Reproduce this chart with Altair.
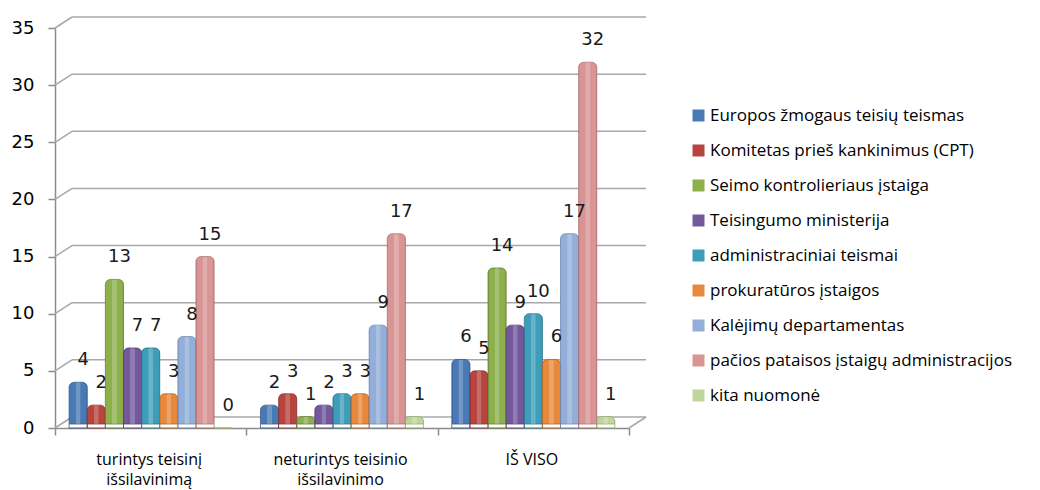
import altair as alt
import pandas as pd

categories = ["turintys teisinį\nišsilavinimą", "neturintys teisinio\nišsilavinimo", "IŠ VISO"]
series = [
    "Europos žmogaus teisių  teismas",
    "Komitetas prieš kankinimus (CPT)",
    "Seimo kontrolieriaus įstaiga",
    "Teisingumo ministerija",
    "administraciniai teismai",
    "prokuratūros įstaigos",
    "Kalėjimų departamentas",
    "pačios pataisos įstaigų administracijos",
    "kita nuomonė",
]
v_europos = [4, 2, 6]
v_cpt = [2, 3, 5]
v_seimo = [13, 1, 14]
v_ministerija = [7, 2, 9]
v_admin = [7, 3, 10]
v_prokuratura = [3, 3, 6]
v_kalejimu = [8, 9, 17]
v_pacios = [15, 17, 32]
v_kita = [0, 1, 1]
y_ticks = [0, 5, 10, 15, 20, 25, 30, 35]

colors = ["#4A7AB5", "#B8443F", "#8DB04C", "#73589C", "#3E9EB9", "#E8883C", "#93AFD9", "#D99595", "#BED69A"]
dark = ["#30578A", "#8A2E2B", "#637F31", "#513C72", "#2A7489", "#B5621F", "#6A87B3", "#B06C6C", "#94AD70"]

all_vals = [v_europos, v_cpt, v_seimo, v_ministerija, v_admin, v_prokuratura, v_kalejimu, v_pacios, v_kita]
rows = []
for s, vals in zip(series, all_vals):
    for c, v in zip(categories, vals):
        rows.append({"cat": c, "series": s, "value": v})
df = pd.DataFrame(rows)
grid_df = pd.DataFrame({"v": y_ticks})
floor_df = pd.DataFrame({"v": [0]})

W, H = 574, 400
DEPTH_X, DEPTH_Y = 17, -11
GRID = "#A8A8A8"
AXC = "#8C8C8C"
TXT_FONT = "Open Sans"

yscale = alt.Scale(domain=[0, 35], nice=False, zero=True)
xscale = alt.Scale(domain=categories, paddingInner=0, paddingOuter=0)

y_axis = alt.Axis(
    values=y_ticks, grid=False, domainColor=AXC, tickColor=AXC, tickSize=7,
    domainWidth=1.5, tickWidth=1.5, labelPadding=14,
    labelFont="DejaVu Sans", labelFontSize=18, labelColor="#000", title=None,
)
x_axis = alt.Axis(
    labelAngle=0, tickBand="extent", labelOffset=-2, domainColor=AXC, tickColor=AXC,
    tickSize=7, domainWidth=1.5, tickWidth=1.5, labelPadding=16,
    labelFont=TXT_FONT, labelFontSize=16, labelColor="#000", labelLineHeight=20,
    labelExpr="isValid(datum.value) ? split(datum.value, '\\n') : ''", title=None,
)

grid_back = alt.Chart(grid_df).mark_rule(color=GRID, strokeWidth=1.5, yOffset=DEPTH_Y).encode(
    y=alt.Y("v:Q", scale=yscale, axis=y_axis, title=None),
    x=alt.value(DEPTH_X), x2=alt.value(W + DEPTH_X),
)
grid_diag = alt.Chart(grid_df).mark_rule(color=GRID, strokeWidth=1.5, y2Offset=DEPTH_Y).encode(
    y=alt.Y("v:Q", scale=yscale, title=None), y2="v:Q",
    x=alt.value(0), x2=alt.value(DEPTH_X),
)
floor_diag = alt.Chart(floor_df).mark_rule(color=GRID, strokeWidth=1.5, y2Offset=DEPTH_Y).encode(
    y=alt.Y("v:Q", scale=yscale, title=None), y2="v:Q",
    x=alt.value(W), x2=alt.value(W + DEPTH_X),
)

xoff = alt.XOffset("series:N", sort=series, scale=alt.Scale(paddingInner=0, paddingOuter=0.78))

bars = alt.Chart(df).mark_bar(
    xOffset=8, yOffset=-4, y2Offset=-4, cornerRadiusTopLeft=5, cornerRadiusTopRight=5, strokeWidth=0.8
).encode(
    x=alt.X("cat:N", sort=categories, scale=xscale, axis=x_axis, title=None),
    xOffset=xoff,
    y=alt.Y("value:Q", scale=yscale, title=None),
    color=alt.Color(
        "series:N", sort=series, scale=alt.Scale(domain=series, range=colors),
        legend=alt.Legend(
            title=None, orient="none", legendX=635, legendY=79, symbolType="square",
            symbolSize=144, symbolStrokeWidth=0, labelFont=TXT_FONT, labelFontSize=17,
            labelColor="#000", rowPadding=17, labelOffset=3, padding=0, labelLimit=420,
        ),
    ),
    stroke=alt.Stroke("series:N", sort=series, scale=alt.Scale(domain=series, range=dark), legend=None),
)

highlight = alt.Chart(df).mark_bar(
    xOffset=6, yOffset=-4, y2Offset=-4, width=5, color="white", opacity=0.22,
    cornerRadiusTopLeft=2, cornerRadiusTopRight=2,
).encode(
    x=alt.X("cat:N", sort=categories, scale=xscale, title=None),
    xOffset=xoff,
    y=alt.Y("value:Q", scale=yscale, title=None),
)

labels = alt.Chart(df).mark_text(
    dx=5, dy=-13, baseline="bottom", align="center", font="DejaVu Sans", fontSize=18, color="#1a1a1a"
).encode(
    x=alt.X("cat:N", sort=categories, scale=xscale, title=None),
    xOffset=xoff,
    y=alt.Y("value:Q", scale=yscale, title=None),
    text="value:Q",
)

chart = alt.layer(grid_back, grid_diag, floor_diag, bars, highlight, labels).properties(
    width=W, height=H,
    padding={"left": 47, "top": 20, "right": 395, "bottom": 62},
    autosize=alt.AutoSizeParams(type="none"),
    background="white",
).configure_view(stroke=None)

chart.save("out.html", embed_options={"renderer": "svg", "actions": False})
